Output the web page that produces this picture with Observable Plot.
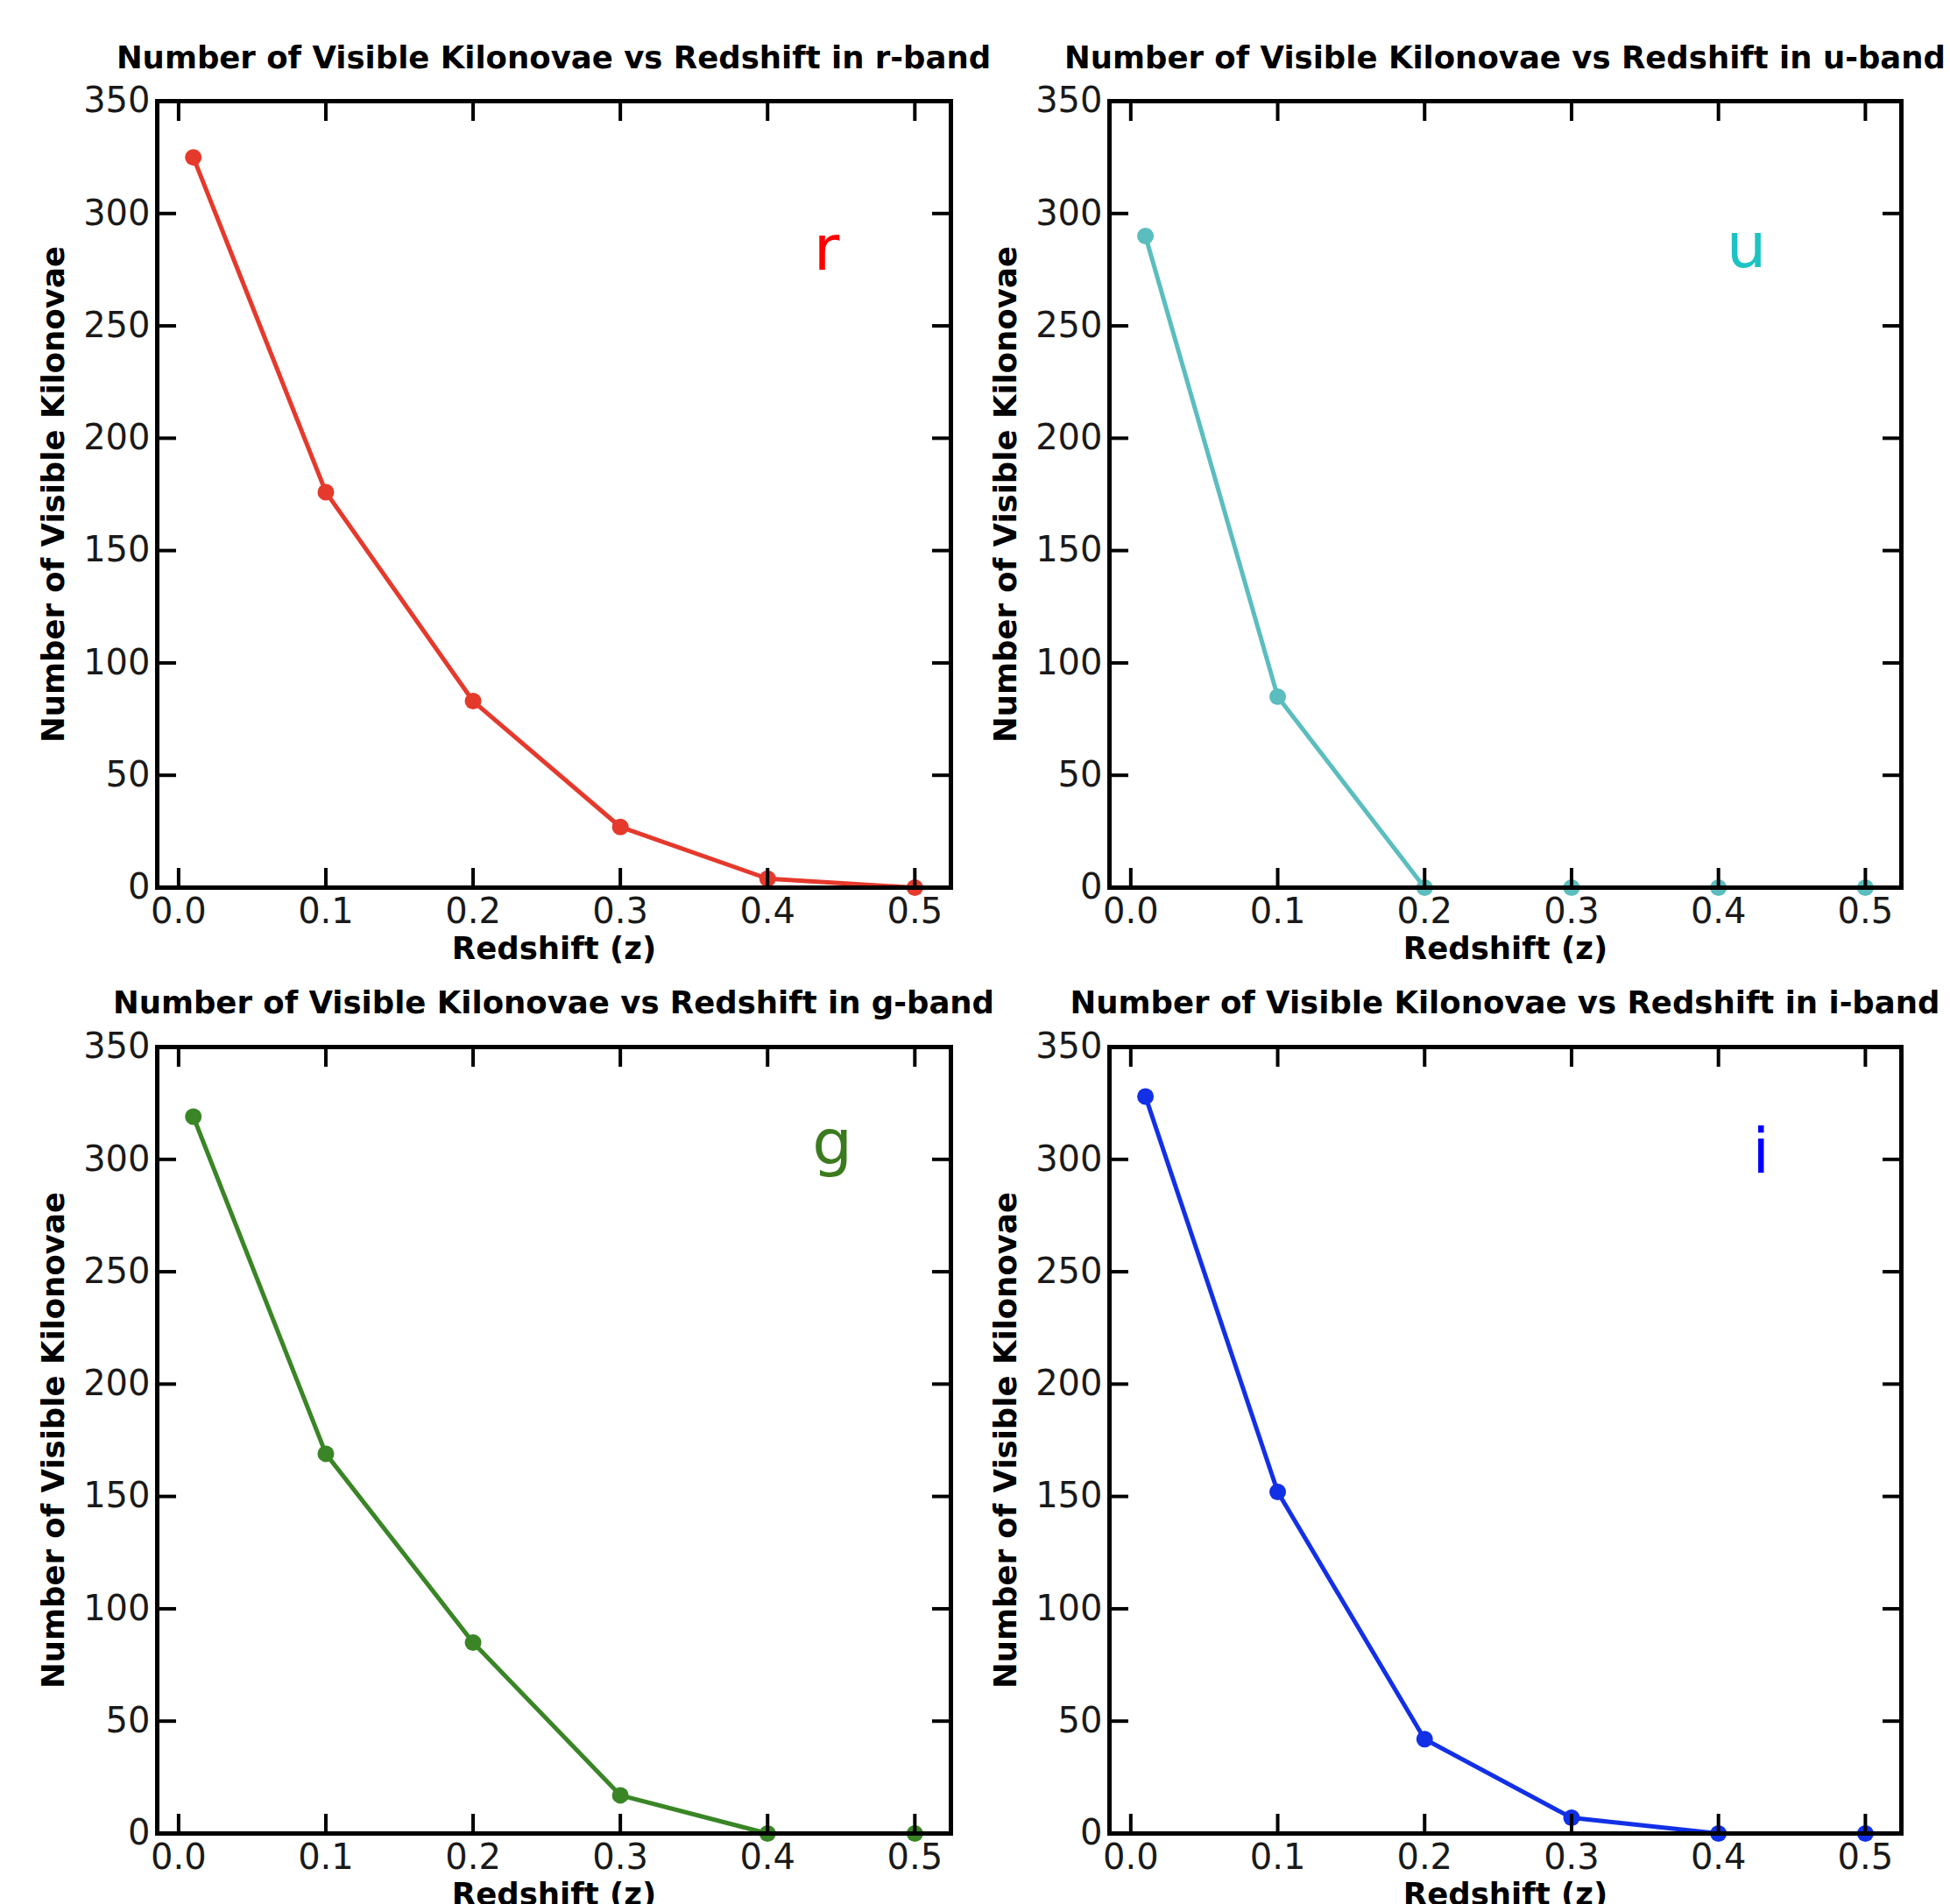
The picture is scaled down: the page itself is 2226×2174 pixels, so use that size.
<!DOCTYPE html>
<html>
<head>
<meta charset="utf-8">
<script src="https://cdn.jsdelivr.net/npm/d3@7"></script>
<script src="https://cdn.jsdelivr.net/npm/@observablehq/plot@0.6"></script>
<style>
html, body { margin: 0; padding: 0; background: #fff; width: 2226px; height: 2174px; overflow: hidden; }
#page { position: relative; width: 2226px; height: 2174px; }
.title { position: absolute; font-family: "DejaVu Sans"; font-weight: bold; font-size: 35.5px; line-height: 40px; white-space: nowrap; transform: translateX(-50%); color: #000; }
.panel { position: absolute; }
</style>
</head>
<body>
<div id="page"></div>
<script>
// ---- data ----
const redshift = [0.01, 0.1, 0.2, 0.3, 0.4, 0.5];
const rBand = [325, 176, 83, 27, 4, 0];
const uBand = [290, 85, 0, 0, 0, 0];
const gBand = [319, 169, 85, 17, 0, 0];
const iBand = [328, 152, 42, 7, 0, 0];
const bandNames = ["r", "u", "g", "i"];
const titles = [
  "Number of Visible Kilonovae vs Redshift in r-band",
  "Number of Visible Kilonovae vs Redshift in u-band",
  "Number of Visible Kilonovae vs Redshift in g-band",
  "Number of Visible Kilonovae vs Redshift in i-band"
];
const xTicks = [0, 0.1, 0.2, 0.3, 0.4, 0.5];
const yTicks = [0, 50, 100, 150, 200, 250, 300, 350];
const xLabel = "Redshift (z)";
const yLabel = "Number of Visible Kilonovae";
const lineColors = ["#e5392c", "#5bbdbe", "#3a8526", "#1230e6"];
const labelColors = ["#ff0000", "#1cc3c3", "#3b7b1e", "#0000ff"];
const labelX = [0.440, 0.419, 0.444, 0.429];
const labelY = [275, 276, 298, 294];

const series = [rBand, uBand, gBand, iBand];

// ---- layout ----
const panels = [
  {left: 0,    top: 95,   ml: 179, mr: 28, titleX: 632,  titleTop: 46},
  {left: 1113, top: 95,   ml: 153, mr: 56, titleX: 1718, titleTop: 46},
  {left: 0,    top: 1175, ml: 179, mr: 28, titleX: 632,  titleTop: 1125},
  {left: 1113, top: 1175, ml: 153, mr: 56, titleX: 1718, titleTop: 1125}
];

const page = document.getElementById("page");

series.forEach((vals, k) => {
  const p = panels[k];
  const data = redshift.map((z, j) => ({z, n: vals[j]}));
  const chart = Plot.plot({
    width: 1113,
    height: 1015,
    marginLeft: p.ml,
    marginRight: p.mr,
    marginTop: 20,
    marginBottom: 97,
    style: {fontFamily: "DejaVu Sans", fontSize: "40px", color: "#000", background: "#fff", overflow: "visible", maxWidth: "none"},
    x: {domain: [-0.0145, 0.5245]},
    y: {domain: [0, 350]},
    marks: [
      Plot.line(data, {x: "z", y: "n", stroke: lineColors[k], strokeWidth: 5}),
      Plot.dot(data, {x: "z", y: "n", r: 9.5, fill: lineColors[k], stroke: "none"}),
      Plot.text([bandNames[k]], {x: () => labelX[k], y: () => labelY[k], text: d => d, fill: labelColors[k], fontSize: 72, textAnchor: "middle", lineAnchor: "bottom"}),
      Plot.frame({stroke: "#000", strokeWidth: 5}),
      Plot.axisX(xTicks, {anchor: "bottom", tickSize: -22, strokeWidth: 4, fill: "none", label: null}),
      Plot.axisX(xTicks, {anchor: "top", tickSize: -22, strokeWidth: 4, fill: "none", label: null}),
      Plot.axisY(yTicks, {anchor: "left", tickSize: -22, strokeWidth: 4, fill: "none", label: null}),
      Plot.axisY(yTicks, {anchor: "right", tickSize: -22, strokeWidth: 4, fill: "none", label: null}),
      Plot.axisX(xTicks, {anchor: "bottom", tickSize: 0, tickPadding: 12, tickFormat: d3.format(".1f"), fontSize: 40, fill: "#1a1a1a", label: null}),
      Plot.axisY(yTicks, {anchor: "left", tickSize: 0, tickPadding: 8, tickFormat: d3.format("d"), fontSize: 40, fill: "#1a1a1a", label: null}),
      Plot.text([xLabel], {frameAnchor: "bottom", dy: 70, text: d => d, fontSize: 35.5, fontWeight: "bold", lineAnchor: "middle", textAnchor: "middle"}),
      Plot.text([yLabel], {frameAnchor: "left", dx: -118, rotate: -90, text: d => d, fontSize: 35.5, fontWeight: "bold", lineAnchor: "middle", textAnchor: "middle"})
    ]
  });
  const div = document.createElement("div");
  div.className = "panel";
  div.style.left = p.left + "px";
  div.style.top = p.top + "px";
  div.appendChild(chart);
  page.appendChild(div);

  const t = document.createElement("div");
  t.className = "title";
  t.style.left = p.titleX + "px";
  t.style.top = p.titleTop + "px";
  t.textContent = titles[k];
  page.appendChild(t);
});
</script>
</body>
</html>
